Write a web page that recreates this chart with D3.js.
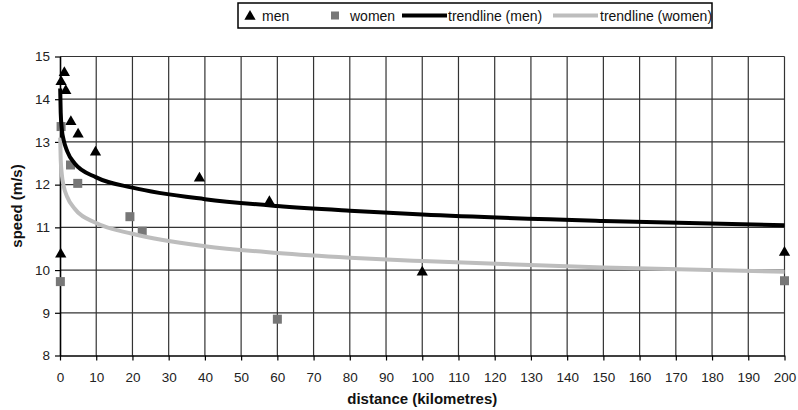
<!DOCTYPE html>
<html>
<head>
<meta charset="utf-8">
<script src="https://cdnjs.cloudflare.com/ajax/libs/d3/7.8.5/d3.min.js"></script>
<style>
	body { margin:0; background:#fff; }
	svg text { font-family:"Liberation Sans", Arial, sans-serif; }
</style>
</head>
<body>
<svg id="chart" width="798" height="410"></svg>
<script>

// chart data
// ---------------------------------
var menDistance   = [0.3, 1.2, 1.6, 3, 5, 9.8, 38.5, 57.8, 0.2, 100, 200];
var menSpeed      = [14.41, 14.62, 14.2, 13.47, 13.18, 12.76, 12.15, 11.6, 10.37, 9.95, 10.41];
var womenDistance = [0.3, 2.9, 4.9, 19.3, 22.7, 0.1, 60, 200];
var womenSpeed    = [13.36, 12.46, 12.03, 11.25, 10.91, 9.73, 8.85, 9.75];

var trendDistance   = [0.05, 0.2, 0.5, 1, 2, 4, 10, 20, 40, 60, 80, 100, 150, 200];
var trendMenSpeed   = [14.25, 13.68, 13.3, 13.05, 12.78, 12.5, 12.17, 11.93, 11.66, 11.5, 11.39, 11.3, 11.15, 11.05];
var trendWomenSpeed = [13.1, 12.58, 12.24, 11.97, 11.71, 11.44, 11.1, 10.85, 10.56, 10.4, 10.29, 10.21, 10.06, 9.96];

var xTicks = d3.range(0, 201, 10);
var yTicks = [8, 9, 10, 11, 12, 13, 14, 15];
var legendLabels = ["men", "women", "trendline (men)", "trendline (women)"];

(function() {

	var svg = d3.select("#chart");

	var x = d3.scaleLinear().domain([0, 200]).range([60, 784.5]);
	var y = d3.scaleLinear().domain([8, 15]).range([355.5, 56.5]);

	// grid
	// -------------------------
	svg.append("g")
		.selectAll("line")
		.data(xTicks.slice(1))
		.enter().append("line")
		.attr("x1", function(d){ return x(d); })
		.attr("x2", function(d){ return x(d); })
		.attr("y1", y(15))
		.attr("y2", y(8))
		.attr("style", "stroke:#333;stroke-width:1.2;");

	svg.append("g")
		.selectAll("line")
		.data(yTicks.slice(1))
		.enter().append("line")
		.attr("x1", x(0))
		.attr("x2", x(200))
		.attr("y1", function(d){ return y(d); })
		.attr("y2", function(d){ return y(d); })
		.attr("style", "stroke:#333;stroke-width:1.2;");

	// axes
	// -------------------------
	var xAxis = svg.append("g")
		.attr("transform", "translate(0," + y(8) + ")")
		.call(d3.axisBottom(x).tickValues(xTicks).tickSize(5).tickPadding(12).tickSizeOuter(0));
	var yAxis = svg.append("g")
		.attr("transform", "translate(" + x(0) + ",0)")
		.call(d3.axisLeft(y).tickValues(yTicks).tickFormat(d3.format("d")).tickSize(5).tickPadding(5).tickSizeOuter(0));

	[xAxis, yAxis].forEach(function(a){
		a.select(".domain").attr("style", "stroke:#000;stroke-width:1.6;");
		a.selectAll(".tick line").attr("style", "stroke:#000;stroke-width:1.2;");
		a.selectAll(".tick text")
			.attr("style", "font-family:'Liberation Sans',Arial;font-size:13.5px;fill:#222;");
	});

	svg.append("text")
		.attr("x", (x(0) + x(200)) / 2)
		.attr("y", 404)
		.attr("style", "font-size:15px;font-weight:bold;text-anchor:middle;fill:#111;")
		.text("distance (kilometres)");

	svg.append("text")
		.attr("transform", "translate(22," + ((y(8) + y(15)) / 2) + ") rotate(-90)")
		.attr("style", "font-size:15px;font-weight:bold;text-anchor:middle;fill:#111;")
		.text("speed (m/s)");

	// markers
	// -------------------------
	var tri = d3.symbol().type(d3.symbolTriangle).size(55);

	svg.append("g")
		.selectAll("path")
		.data(menDistance)
		.enter().append("path")
		.attr("d", tri)
		.attr("transform", function(d, i){ return "translate(" + x(d) + "," + y(menSpeed[i]) + ")"; })
		.attr("style", "fill:#000;stroke:none;");

	svg.append("g")
		.selectAll("rect")
		.data(womenDistance)
		.enter().append("rect")
		.attr("x", function(d){ return x(d) - 4.5; })
		.attr("y", function(d, i){ return y(womenSpeed[i]) - 4.5; })
		.attr("width", 9)
		.attr("height", 9)
		.attr("style", "fill:#777;stroke:none;");

	// trendlines
	// -------------------------
	var line = function(values){
		return d3.line()
			.x(function(d){ return x(d); })
			.y(function(d, i){ return y(values[i]); })
			.curve(d3.curveMonotoneX)(trendDistance);
	};

	svg.append("path")
		.attr("d", line(trendWomenSpeed))
		.attr("style", "fill:none;stroke:#bdbdbd;stroke-width:4;");
	svg.append("path")
		.attr("d", line(trendMenSpeed))
		.attr("style", "fill:none;stroke:#000;stroke-width:4;");

	// legend
	// -------------------------
	var lg = svg.append("g");
	var ly = 15.5;

	lg.append("rect")
		.attr("x", 238)
		.attr("y", 3)
		.attr("width", 474)
		.attr("height", 25)
		.attr("style", "fill:#fff;stroke:#000;stroke-width:1.5;");

	lg.append("path")
		.attr("d", tri)
		.attr("transform", "translate(250," + (ly + 1) + ")")
		.attr("style", "fill:#000;");
	lg.append("rect")
		.attr("x", 331)
		.attr("y", ly - 4)
		.attr("width", 8)
		.attr("height", 8)
		.attr("style", "fill:#777;");
	lg.append("line")
		.attr("x1", 402).attr("x2", 447)
		.attr("y1", ly).attr("y2", ly)
		.attr("style", "stroke:#000;stroke-width:4;");
	lg.append("line")
		.attr("x1", 553).attr("x2", 598)
		.attr("y1", ly).attr("y2", ly)
		.attr("style", "stroke:#bdbdbd;stroke-width:4;");

	var textX = [262, 350, 448, 600];
	lg.selectAll("text")
		.data(legendLabels)
		.enter().append("text")
		.attr("x", function(d, i){ return textX[i]; })
		.attr("y", ly + 5)
		.attr("style", "font-size:14px;fill:#111;")
		.text(function(d){ return d; });

})();

// -----------------------------
// EOF
// -----------------------------
</script>
</body>
</html>
